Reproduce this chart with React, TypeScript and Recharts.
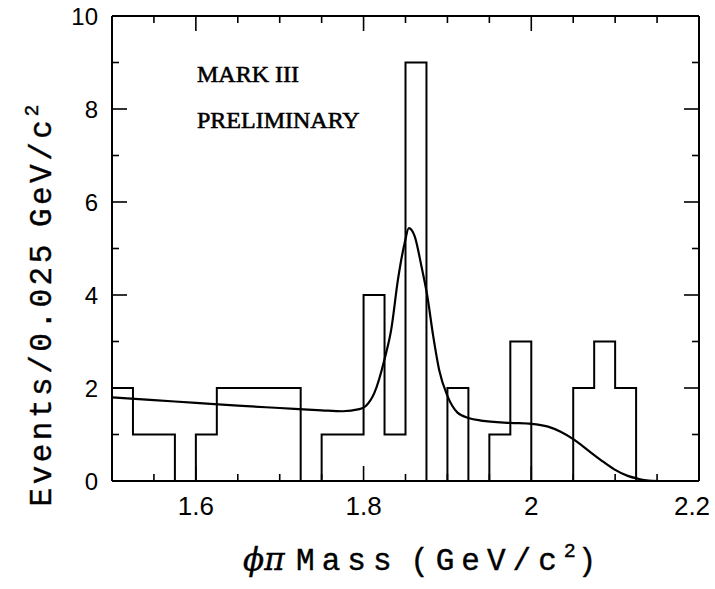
import React from 'react';
import { LineChart, Line, XAxis, YAxis } from 'recharts';

// ---- data ----
// histogram: bin edges (GeV/c^2) and events per 0.025 GeV bin
const BIN_EDGES = [
  1.5, 1.525, 1.55, 1.575, 1.6, 1.625, 1.65, 1.675, 1.7, 1.725, 1.75, 1.775,
  1.8, 1.825, 1.85, 1.875, 1.9, 1.925, 1.95, 1.975, 2.0, 2.025, 2.05, 2.075,
  2.1, 2.125, 2.15, 2.175, 2.2,
];
const COUNTS = [
  2, 1, 1, 0, 1, 2, 2, 2, 2, 0, 1, 1, 4, 1, 9, 0, 2, 0, 1, 3, 0, 0, 2, 3, 2, 0,
  0, 0,
];

// fitted curve (gaussian + background), sampled by eye
const FIT_MASS = [
  1.5, 1.55, 1.6, 1.65, 1.7, 1.75, 1.775, 1.795, 1.803, 1.813, 1.825, 1.833,
  1.841, 1.849, 1.854, 1.861, 1.869, 1.876, 1.883, 1.89, 1.9, 1.912, 1.926,
  1.94, 1.975, 2.0, 2.02, 2.035, 2.051, 2.067, 2.083, 2.099, 2.115, 2.127,
  2.14, 2.16,
];
const FIT_VALUE = [
  1.8, 1.74, 1.68, 1.62, 1.57, 1.52, 1.5, 1.545, 1.62, 1.9, 2.62, 3.26, 4.33,
  5.12, 5.44, 5.26, 4.62, 3.98, 3.12, 2.4, 1.83, 1.47, 1.35, 1.3, 1.25, 1.23,
  1.17, 1.06, 0.89, 0.67, 0.45, 0.25, 0.11, 0.05, 0.01, 0,
];

// axis ticks
const X_TICKS = [
  1.55, 1.6, 1.65, 1.7, 1.75, 1.8, 1.85, 1.9, 1.95, 2.0, 2.05, 2.1, 2.15, 2.2,
];
const X_LABELS: Record<string, string> = {
  '1.6': '1.6',
  '1.8': '1.8',
  '2': '2',
  '2.2': '2.2',
};
const Y_TICKS = [0, 1, 2, 3, 4, 5, 6, 7, 8, 9, 10];
const Y_LABELS: Record<string, string> = {
  '0': '0',
  '2': '2',
  '4': '4',
  '6': '6',
  '8': '8',
  '10': '10',
};

const histData = BIN_EDGES.map((m, i) => ({
  m,
  n: COUNTS[Math.min(i, COUNTS.length - 1)],
}));
const fitData = FIT_MASS.map((m, i) => ({ m, f: FIT_VALUE[i] }));

const W = 715;
const H = 589;
const MAJOR = 15;
const MINOR = 7;
const tickFont = '"Liberation Sans", Arial, sans-serif';
const titleFont = '"Liberation Mono", "Courier New", monospace';

// inward ticks; labels only on the bottom/left axes
const BottomTick = (props: any) => {
  const { x, y, payload } = props;
  const label = X_LABELS[String(payload.value)];
  const len = label ? MAJOR : MINOR;
  return (
    <g>
      <line x1={x} y1={y} x2={x} y2={y - len} stroke="#000" strokeWidth={1.6} />
      {label && (
        <text
          x={label === '2.2' ? x - 7 : x}
          y={y + 34}
          textAnchor="middle"
          fontFamily={tickFont}
          fontSize={26}
          fill="#000">
          {label}
        </text>
      )}
    </g>
  );
};

const TopTick = (props: any) => {
  const { x, y, payload } = props;
  const len = X_LABELS[String(payload.value)] ? MAJOR : MINOR;
  return <line x1={x} y1={y} x2={x} y2={y + len} stroke="#000" strokeWidth={1.6} />;
};

const LeftTick = (props: any) => {
  const { x, y, payload } = props;
  const label = Y_LABELS[String(payload.value)];
  const len = label ? MAJOR : MINOR;
  return (
    <g>
      <line x1={x} y1={y} x2={x + len} y2={y} stroke="#000" strokeWidth={1.6} />
      {label && (
        <text
          x={x - 14}
          y={y + 9}
          textAnchor="end"
          fontFamily={tickFont}
          fontSize={24}
          fill="#000">
          {label}
        </text>
      )}
    </g>
  );
};

const RightTick = (props: any) => {
  const { x, y, payload } = props;
  const len = Y_LABELS[String(payload.value)] ? MAJOR : MINOR;
  return <line x1={x} y1={y} x2={x - len} y2={y} stroke="#000" strokeWidth={1.6} />;
};

const axisLine = { stroke: '#000', strokeWidth: 2 };

export default function App() {
  return (
    <div style={{ position: 'absolute', left: 0, top: 0, width: W, height: H, background: '#fff' }}>
      <LineChart width={W} height={H} margin={{ top: 15, right: 15, bottom: 107, left: 111 }}>
        <XAxis
          xAxisId="bottom"
          type="number"
          dataKey="m"
          domain={[1.5, 2.2]}
          ticks={X_TICKS}
          interval={0}
          height={1}
          tickSize={0}
          tickMargin={0}
          tickLine={false}
          axisLine={axisLine}
          tick={BottomTick}
          allowDataOverflow
        />
        <XAxis
          xAxisId="top"
          orientation="top"
          type="number"
          dataKey="m"
          domain={[1.5, 2.2]}
          ticks={X_TICKS}
          interval={0}
          height={1}
          tickSize={0}
          tickMargin={0}
          tickLine={false}
          axisLine={axisLine}
          tick={TopTick}
          allowDataOverflow
        />
        <YAxis
          yAxisId="left"
          type="number"
          domain={[0, 10]}
          ticks={Y_TICKS}
          interval={0}
          width={1}
          tickSize={0}
          tickMargin={0}
          tickLine={false}
          axisLine={axisLine}
          tick={LeftTick}
          allowDataOverflow
        />
        <YAxis
          yAxisId="right"
          orientation="right"
          type="number"
          domain={[0, 10]}
          ticks={Y_TICKS}
          interval={0}
          width={1}
          tickSize={0}
          tickMargin={0}
          tickLine={false}
          axisLine={axisLine}
          tick={RightTick}
          allowDataOverflow
        />
        <Line
          xAxisId="bottom"
          yAxisId="left"
          data={histData}
          dataKey="n"
          type="stepAfter"
          stroke="#000"
          strokeWidth={2}
          dot={false}
          isAnimationActive={false}
        />
        <Line
          xAxisId="bottom"
          yAxisId="left"
          data={fitData}
          dataKey="f"
          type="monotone"
          stroke="#000"
          strokeWidth={2.2}
          dot={false}
          isAnimationActive={false}
        />
      </LineChart>

      {/* titles and annotations */}
      <svg
        width={W}
        height={H}
        style={{ position: 'absolute', left: 0, top: 0, pointerEvents: 'none' }}>
        <text x={197} y={82} fontFamily='"Liberation Serif", serif' fontSize={24} fill="#000" stroke="#000" strokeWidth={0.6}>
          MARK III
        </text>
        <text x={197} y={128} fontFamily='"Liberation Serif", serif' fontSize={24} fill="#000" stroke="#000" strokeWidth={0.6}>
          PRELIMINARY
        </text>
        <text
          transform="translate(51, 305) rotate(-90)"
          textAnchor="middle"
          fontFamily={titleFont}
          fontSize={31}
          letterSpacing={3.5}
          wordSpacing={-8}
          fill="#000"
          stroke="#000"
          strokeWidth={0.4}>
          Events/0.025 GeV/c
          <tspan dy={-13} fontSize={20} letterSpacing={1}>2</tspan>
        </text>
        <text
          x={243}
          y={570}
          fontFamily={titleFont}
          fontSize={31}
          letterSpacing={7}
          wordSpacing={-14}
          fill="#000"
          stroke="#000"
          strokeWidth={0.4}>
          <tspan fontFamily='"DejaVu Serif", serif' fontStyle="italic" letterSpacing={0}>ϕπ</tspan> Mass (GeV/c
          <tspan dy={-13} fontSize={20} letterSpacing={2}>2</tspan>
          <tspan dy={13}>)</tspan>
        </text>
      </svg>
    </div>
  );
}
